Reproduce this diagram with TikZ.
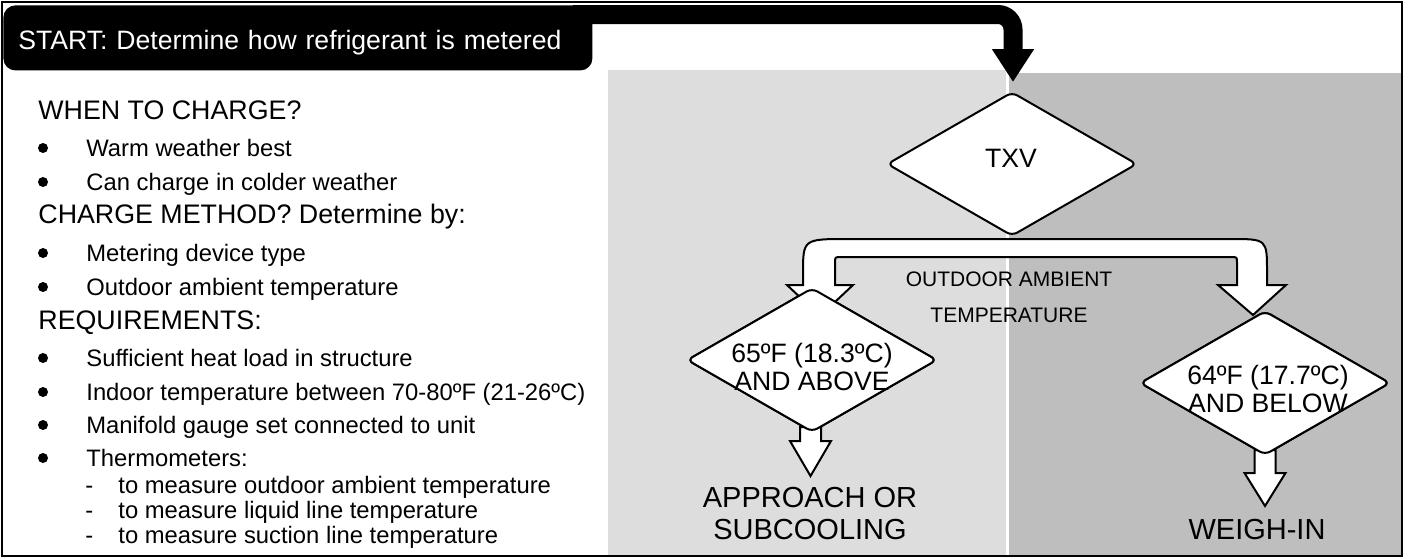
\documentclass[tikz,border=0pt]{standalone}
\usepackage{fontspec}
\setmainfont{Liberation Sans}
\usetikzlibrary{arrows.meta,shapes.geometric,calc}
\definecolor{panelLight}{gray}{0.867}
\definecolor{panelDark}{gray}{0.745}

\tikzset{
	flowdiamond/.style={diamond,draw,fill=white,line width=1pt,rounded corners=3pt,
		minimum width=125pt,minimum height=72pt,inner sep=0pt},
	blockarrow/.style={draw,fill=white,line width=1pt,line join=miter},
	startarrow/.style={line width=9.5pt,rounded corners=7.5pt,-{Triangle[width=20pt,length=16.5pt]}},
	startbox/.style={fill=black,text=white,rounded corners=6pt,minimum width=294.5pt,
		minimum height=32.5pt,text width=279.5pt,inner xsep=7.5pt,inner ysep=0pt,align=left,
		text height=14.5pt,text depth=3pt,font=\fontsize{13.3}{15}\selectfont},
	headtext/.style={anchor=base west,inner sep=0pt,font=\fontsize{13.4}{15}\selectfont},
	itemtext/.style={anchor=base west,inner sep=0pt,font=\fontsize{11.9}{14}\selectfont},
	bulletdot/.style={circle,fill=black,inner sep=0pt,minimum size=5pt},
	choicetext/.style={align=center,inner sep=0pt,font=\fontsize{13.3}{14}\selectfont},
	resulttext/.style={align=center,inner sep=0pt,font=\fontsize{14.5}{16}\selectfont},
	smalltext/.style={align=center,inner sep=0pt,font=\fontsize{10.5}{18}\selectfont}
}

\begin{document}
\begin{tikzpicture}[x=0.5pt,y=-0.5pt]
	\useasboundingbox (0,0) rectangle (1408,558);

	% grey panels
	\fill[panelLight] (608,70) rectangle (1006,555);
	\fill[panelDark] (1009,73) rectangle (1401,555);

	% start box and arrow
	\node[startbox,anchor=north west] (start) at (3,5) {START: Determine how refrigerant is metered};
	\node[flowdiamond] (txv) at (1012,164) {};
	\draw[startarrow] ($(start.north east)+(-20,9.5)$) -| ($(txv.north)+(1,-9)$);
	\node[choicetext] (ttxv) at (1011,158) {TXV};

	% outdoor temperature choices
	\node[flowdiamond] (d65) at (812,360) {};
	\node[flowdiamond] (d64) at (1265,383) {};

	% split arrow
	\draw[blockarrow] (787,285) -- (820,316) -- (853,285) -- (835,285) -- (835,263)
		.. controls (835,257) .. (841,257) -- (1231,257) .. controls (1237,257) .. (1237,263)
		-- (1237,285) -- (1218,285) -- (1253,315) -- (1286,285) -- (1267,285) -- (1267,272)
		.. controls (1267,239) .. (1230,239) -- (848,239) .. controls (803,239) .. (803,274)
		-- (803,285) -- cycle;
	\node[smalltext] (tamb) at (1009,297) {OUTDOOR AMBIENT\\TEMPERATURE};

	% arrows to charge method
	\draw[blockarrow] ($(d65.south)+(-12,-6)$) -- ++(0,14) -- ++(-10,0) -- ++(20.5,35)
		-- ++(20.5,-35) -- ++(-10,0) -- ++(0,-14) -- cycle;
	\draw[blockarrow] ($(d64.south)+(-10.5,-6)$) -- ++(0,23) -- ++(-10,0) -- ++(20.5,33)
		-- ++(20.5,-33) -- ++(-10,0) -- ++(0,-23) -- cycle;
	\node[flowdiamond] at (d65) {};
	\node[flowdiamond] at (d64) {};
	\node[choicetext] (t65) at (812,367) {65ºF (18.3ºC)\\AND ABOVE};
	\node[choicetext] (t64) at (1268,389) {64ºF (17.7ºC)\\AND BELOW};
	\node[resulttext] (approach) at (810,514) {APPROACH OR\\SUBCOOLING};
	\node[resulttext] (weigh) at (1257,530) {WEIGH-IN};

	% left column
	\node[headtext] (hwhen) at (38,119) {WHEN TO CHARGE?};
	\node[bulletdot] (b1) at (43,148) {};
	\node[itemtext] (iwarm) at (86,156) {Warm weather best};
	\node[bulletdot] (b2) at (43,182) {};
	\node[itemtext] (icold) at (86,190) {Can charge in colder weather};

	\node[headtext] (hmethod) at (38,223) {CHARGE METHOD? Determine by:};
	\node[bulletdot] (b3) at (43,253) {};
	\node[itemtext] (imeter) at (86,261) {Metering device type};
	\node[bulletdot] (b4) at (43,287) {};
	\node[itemtext] (iamb) at (86,295) {Outdoor ambient temperature};

	\node[headtext] (hreq) at (38,329) {REQUIREMENTS:};
	\node[bulletdot] (b5) at (43,358) {};
	\node[itemtext] (iheat) at (86,366) {Sufficient heat load in structure};
	\node[bulletdot] (b6) at (43,392) {};
	\node[itemtext] (iindoor) at (86,400) {Indoor temperature between 70-80ºF (21-26ºC)};
	\node[bulletdot] (b7) at (43,425) {};
	\node[itemtext] (igauge) at (86,433) {Manifold gauge set connected to unit};
	\node[bulletdot] (b8) at (43,458) {};
	\node[itemtext] (itherm) at (86,466) {Thermometers:};

	\node[itemtext] (d1) at (85,493) {-};
	\node[itemtext] (s1) at (118,493) {to measure outdoor ambient temperature};
	\node[itemtext] (d2) at (85,518) {-};
	\node[itemtext] (s2) at (118,518) {to measure liquid line temperature};
	\node[itemtext] (d3) at (85,543) {-};
	\node[itemtext] (s3) at (118,543) {to measure suction line temperature};

	% frame
	\draw[line width=1pt] (2,2) rectangle (1402,556);

\end{tikzpicture}
\end{document}
